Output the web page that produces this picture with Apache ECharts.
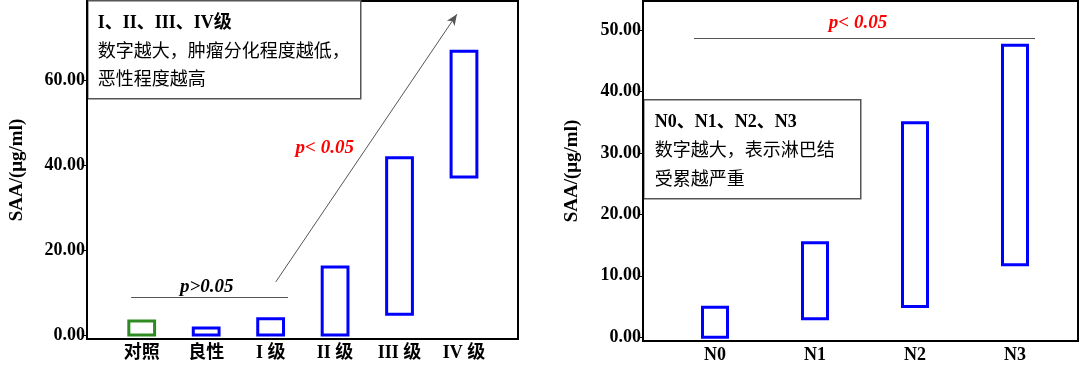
<!DOCTYPE html>
<html><head><meta charset="utf-8">
<script src="https://cdn.jsdelivr.net/npm/echarts@6/dist/echarts.min.js"></script>
<style>html,body{margin:0;padding:0;background:#fff}#c{width:1080px;height:372px}</style>
</head><body><div id="c"></div>
<script>
// Left panel: tumor grade
const gradeCats = ['对照', '良性', 'I 级', 'II 级', 'III 级', 'IV 级'];
const gradeLow  = [0, 0, 0, 0, 4.9, 37.2];
const gradeHigh = [3.3, 1.65, 3.8, 16.0, 41.7, 66.8];
const gradeColors = ['#2e8b22', '#0000ff', '#0000ff', '#0000ff', '#0000ff', '#0000ff'];
const gradeTicks = [0, 20, 40, 60];
// Right panel: lymph node stage
const nodeCats = ['N0', 'N1', 'N2', 'N3'];
const nodeLow  = [0, 3.0, 5.0, 11.8];
const nodeHigh = [4.9, 15.4, 34.9, 47.5];
const nodeTicks = [0, 10, 20, 30, 40, 50];

const serif = '"Liberation Serif","Times New Roman","Noto Sans CJK SC",serif';
const chart = echarts.init(document.getElementById('c'), null, {renderer: 'canvas'});

function rangeData(cats, low, high, colors) {
  return cats.map((c, i) => ({value: [i + 1, low[i], high[i]], itemStyle: {color: colors ? colors[i] : '#0000ff'}}));
}
function boxRender(w) {
  return function (params, api) {
    const x = api.value(0);
    const p1 = api.coord([x, api.value(1)]);
    const p2 = api.coord([x, api.value(2)]);
    const bw = api.size([w, 0])[0];
    return {
      type: 'rect',
      shape: {x: p1[0] - bw / 2, y: p2[1], width: bw, height: p1[1] - p2[1]},
      style: {fill: 'none', stroke: api.visual('color'), lineWidth: 3}
    };
  };
}
function yAxisCfg(gridIndex, min, max, ticks, gap) {
  return {
    type: 'value', gridIndex, min, max,
    name: 'SAA/(μg/ml)', nameLocation: 'middle', nameGap: gap, nameRotate: 90,
    nameTextStyle: {fontFamily: serif, fontWeight: 'bold', fontSize: 19, color: '#000'},
    axisLine: {show: true, onZero: false, lineStyle: {color: '#000', width: 2}},
    axisTick: {show: true, length: 4, customValues: ticks, lineStyle: {color: '#000'}},
    axisLabel: {customValues: ticks, formatter: v => v.toFixed(2), fontFamily: serif, fontWeight: 'bold', fontSize: 18, color: '#000', margin: 2},
    splitLine: {show: false}
  };
}
function xAxisCfg(gridIndex, min, max, cats) {
  return {
    type: 'value', gridIndex, min, max,
    axisLine: {show: true, onZero: false, lineStyle: {color: '#000', width: 2}},
    axisTick: {show: false},
    axisLabel: {customValues: cats.map((c, i) => i + 1), formatter: v => cats[Math.round(v) - 1] || '', fontFamily: serif, fontWeight: 'bold', fontSize: 18, color: '#000', margin: 5},
    splitLine: {show: false}
  };
}
const lineStyle = {color: '#555', width: 1, type: 'solid'};
const pText = (txt, color) => ({show: true, formatter: txt, fontFamily: serif, fontWeight: 'bold', fontStyle: 'italic', fontSize: 19, color});

chart.setOption({
  animation: false,
  grid: [
    {left: 87, top: 1, width: 431, height: 338, show: true, borderColor: '#000', borderWidth: 2, backgroundColor: 'transparent'},
    {left: 643, top: 1, width: 435, height: 340, show: true, borderColor: '#000', borderWidth: 2, backgroundColor: 'transparent'}
  ],
  xAxis: [xAxisCfg(0, 0.151, 6.838, gradeCats), xAxisCfg(1, 0.28, 4.63, nodeCats)],
  yAxis: [yAxisCfg(0, -0.94, 78.6, gradeTicks, 60), yAxisCfg(1, -0.6, 54.7, nodeTicks, 61)],
  series: [
    {
      type: 'custom', xAxisIndex: 0, yAxisIndex: 0, renderItem: boxRender(0.4),
      data: rangeData(gradeCats, gradeLow, gradeHigh, gradeColors),
      markLine: {
        silent: true, symbol: 'none', lineStyle, label: {show: false},
        data: [
          [{coord: [0.836, 9.0]}, {coord: [3.27, 9.0]}],
          [{coord: [3.08, 12.5], symbol: 'none'}, {coord: [5.89, 75.5], symbol: 'arrow', symbolSize: [7, 11]}]
        ]
      },
      markPoint: {
        silent: true, symbol: 'circle', symbolSize: 1, itemStyle: {color: 'transparent'},
        data: [
          {coord: [2.01, 11.3], label: Object.assign(pText('p>0.05', '#000'), {position: 'inside'})},
          {coord: [3.84, 44.0], label: Object.assign(pText('p< 0.05', '#ff0000'), {position: 'inside'})}
        ]
      }
    },
    {
      type: 'custom', xAxisIndex: 1, yAxisIndex: 1, renderItem: boxRender(0.25),
      data: rangeData(nodeCats, nodeLow, nodeHigh, null),
      markLine: {
        silent: true, symbol: 'none', lineStyle, label: {show: false},
        data: [[{coord: [0.79, 48.6]}, {coord: [4.2, 48.6]}]]
      },
      markPoint: {
        silent: true, symbol: 'circle', symbolSize: 1, itemStyle: {color: 'transparent'},
        data: [{coord: [2.43, 51.1], label: Object.assign(pText('p< 0.05', '#ff0000'), {position: 'inside'})}]
      }
    }
  ],
  graphic: [
    {
      type: 'group', left: 87, top: 0, children: [
        {type: 'rect', shape: {x: 0, y: 0, width: 273, height: 98}, style: {fill: '#fff', stroke: '#555', lineWidth: 1.5}},
        {type: 'text', x: 10, y: 23, style: {text: 'I、II、III、IV级', font: 'bold 18px ' + serif, fill: '#000', verticalAlign: 'middle'}},
        {type: 'text', x: 10, y: 52, style: {text: '数字越大，肿瘤分化程度越低，', font: '18px ' + serif, fill: '#000', verticalAlign: 'middle'}},
        {type: 'text', x: 10, y: 80, style: {text: '恶性程度越高', font: '18px ' + serif, fill: '#000', verticalAlign: 'middle'}}
      ]
    },
    {
      type: 'group', left: 643, top: 99, children: [
        {type: 'rect', shape: {x: 0, y: 0, width: 217, height: 99}, style: {fill: '#fff', stroke: '#555', lineWidth: 1.5}},
        {type: 'text', x: 11, y: 23, style: {text: 'N0、N1、N2、N3', font: 'bold 18px ' + serif, fill: '#000', verticalAlign: 'middle'}},
        {type: 'text', x: 11, y: 52, style: {text: '数字越大，表示淋巴结', font: '18px ' + serif, fill: '#000', verticalAlign: 'middle'}},
        {type: 'text', x: 11, y: 81, style: {text: '受累越严重', font: '18px ' + serif, fill: '#000', verticalAlign: 'middle'}}
      ]
    }
  ]
});
</script></body></html>
